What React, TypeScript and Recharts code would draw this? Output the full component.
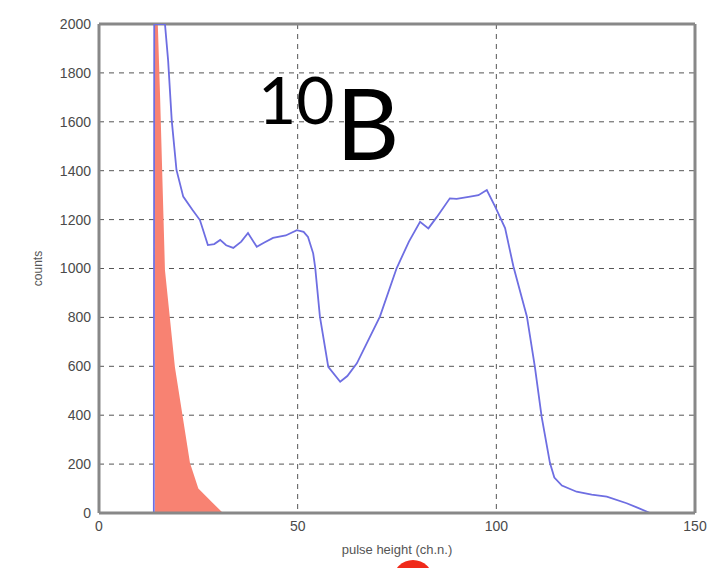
import React from 'react'
import {
  ComposedChart,
  Line,
  Area,
  XAxis,
  YAxis,
  CartesianGrid,
  ReferenceLine,
} from 'recharts'

// blue measured spectrum: channel -> counts
const blueX = [0, 13.8, 13.9, 16.6, 17.4, 18.3, 19.5, 21.2, 23.5, 25.4, 27.4, 29, 30.5, 32, 33.8, 35.8, 37.5, 39.7, 41.5, 43.8, 47, 49.8, 51.5, 52.6, 53.9, 54.4, 55.6, 57.7, 60.7, 62.5, 64.9, 70.7, 74.9, 78, 80.8, 82.9, 85, 88.3, 90, 93.4, 95.5, 97.6, 99.7, 102.2, 104.3, 107.7, 109.7, 111.4, 113.5, 114.6, 116.5, 120.2, 124, 127.8, 132.8, 135.5, 138.7, 150]
const blueY = [0, 0, 2000, 2000, 1850, 1607, 1403, 1294, 1240, 1198, 1096, 1100, 1117, 1095, 1084, 1110, 1145, 1089, 1105, 1125, 1135, 1157, 1150, 1129, 1062, 1006, 803, 598, 537, 560, 612, 803, 1001, 1110, 1191, 1164, 1210, 1287, 1285, 1294, 1300, 1321, 1253, 1165, 1008, 803, 598, 394, 204, 145, 112, 87, 75, 67, 40, 22, 0, 0]

// red simulated component
const redX = [14.1, 14.8, 15.4, 16.6, 19.1, 22.9, 25, 28.7, 31.2]
const redY = [2050, 2000, 1689, 994, 597, 204, 100, 40, 0]

const xTicks = [0, 50, 100, 150]
const yTicks = [0, 200, 400, 600, 800, 1000, 1200, 1400, 1600, 1800, 2000]

const blueData = blueX.map((x, i) => ({ x, counts: blueY[i] }))
const redData = redX.map((x, i) => ({ x, sim: redY[i] }))

const tickStyle = { fill: '#4a4a4a', fontSize: 14, fontFamily: 'Liberation Sans, Arial, sans-serif' }

export default function App() {
  return (
    <div style={{ position: 'absolute', left: 0, top: 0, width: 725, height: 568, background: '#fff', overflow: 'hidden' }}>
      <ComposedChart
        width={725}
        height={568}
        margin={{ top: 24, right: 30, left: 0, bottom: 0 }}
      >
        <CartesianGrid stroke="#555" strokeDasharray="5 5" strokeWidth={1} />
        <XAxis
          type="number"
          dataKey="x"
          domain={[0, 150]}
          ticks={xTicks}
          allowDataOverflow
          height={55}
          tick={tickStyle}
          tickLine={false}
          axisLine={{ stroke: '#888', strokeWidth: 3 }}
          label={{ value: 'pulse height (ch.n.)', position: 'insideBottom', offset: 14, style: { fill: '#555', fontSize: 13, fontFamily: 'Liberation Sans, Arial, sans-serif' } }}
        />
        <YAxis
          type="number"
          domain={[0, 2000]}
          ticks={yTicks}
          allowDataOverflow
          width={99}
          tick={tickStyle}
          tickLine={false}
          axisLine={{ stroke: '#888', strokeWidth: 3 }}
          label={{ value: 'counts', angle: -90, position: 'insideLeft', offset: 38, style: { fill: '#555', fontSize: 12, fontFamily: 'Liberation Sans, Arial, sans-serif', textAnchor: 'middle' } }}
        />
        <ReferenceLine y={2000} stroke="#888" strokeWidth={3} />
        <ReferenceLine x={150} stroke="#888" strokeWidth={3} />
        <Area
          data={redData}
          dataKey="sim"
          type="linear"
          stroke="none"
          fill="#f88272"
          fillOpacity={1}
          isAnimationActive={false}
        />
        <Line
          data={blueData}
          dataKey="counts"
          type="linear"
          stroke="#6e6ee2"
          strokeWidth={1.8}
          dot={false}
          isAnimationActive={false}
        />
      </ComposedChart>
      <div style={{ position: 'absolute', left: 258, top: 66, fontFamily: 'Lato, sans-serif', fontSize: 66, lineHeight: 1, color: '#000' }}>10</div>
      <div style={{ position: 'absolute', left: 336, top: 73, fontFamily: 'Lato, sans-serif', fontSize: 98, lineHeight: 1, color: '#000' }}>B</div>
      <div style={{ position: 'absolute', left: 393, top: 560, width: 40, height: 40, borderRadius: '50%', background: '#f02a1a' }} />
    </div>
  )
}
